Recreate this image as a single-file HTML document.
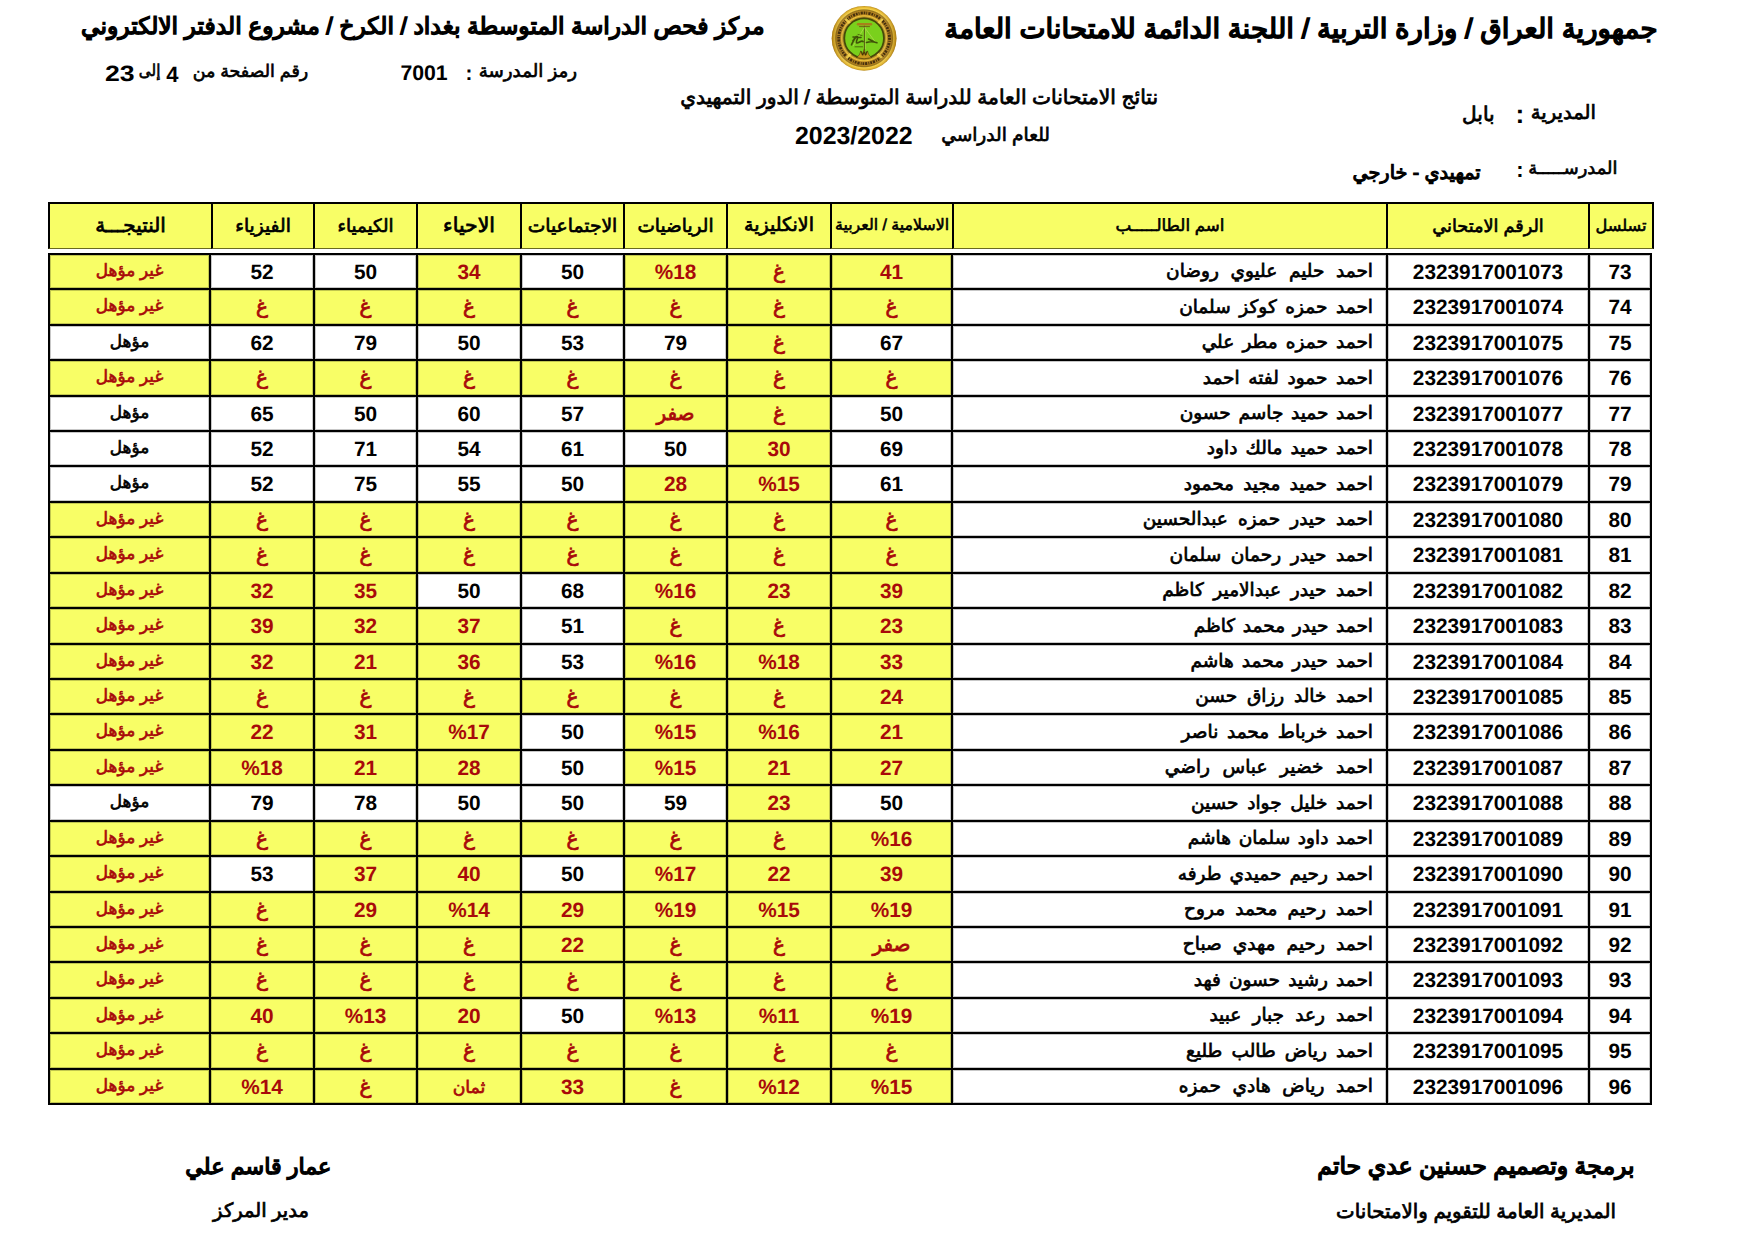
<!DOCTYPE html>
<html lang="ar"><head><meta charset="utf-8"><title>نتائج الامتحانات</title><style>
html,body{margin:0;padding:0;background:#fff;}
body{width:1754px;height:1241px;position:relative;overflow:hidden;font-family:"Liberation Sans",sans-serif;font-weight:bold;color:#000;text-rendering:geometricPrecision;}
.t{position:absolute;white-space:nowrap;direction:rtl;line-height:1;}
.c{position:absolute;box-sizing:border-box;border:2px solid #000;display:flex;align-items:center;justify-content:center;white-space:nowrap;overflow:hidden;line-height:20px;}
.d{box-shadow:inset 0 0 0 1px rgba(0,0,0,.22);}
.y{background:#f8fe66;}
.r{color:#a80a0a;}
.n{font-size:20.8px;direction:ltr;padding-top:2px;}
.a{font-size:16.9px;direction:rtl;padding-bottom:2px;}
.g{font-size:20px;direction:rtl;}
.nm{justify-content:flex-start;direction:rtl;padding-right:13px;padding-bottom:1px;font-size:18.5px;word-spacing:4px;}
.ar{font-weight:normal;-webkit-text-stroke-width:0.038em;}
.h{font-size:18px;direction:rtl;border-bottom:1px solid #6a6a20;}
</style></head><body>
<div class="t ar" id="t0" style="right:96.5px;top:9.0px;font-size:27.61px;height:40px;line-height:40px;direction:rtl;-webkit-text-stroke-width:0.058em;">جمهورية العراق / وزارة التربية / اللجنة الدائمة للامتحانات العامة</div>
<div class="t ar" id="t1" style="right:989.5px;top:5.8px;font-size:23.42px;height:40px;line-height:40px;direction:rtl;-webkit-text-stroke-width:0.062em;">مركز فحص الدراسة المتوسطة بغداد / الكرخ / مشروع الدفتر الالكتروني</div>
<div class="t ar" id="t2" style="right:1177.0px;top:50.5px;font-size:18.23px;height:40px;line-height:40px;direction:rtl;">رمز المدرسة</div>
<div class="t" id="t2c" style="right:1281.5px;top:53.5px;font-size:20.68px;height:40px;line-height:40px;direction:ltr;">:</div>
<div class="t" id="t3" style="right:1306.4px;top:53.7px;font-size:21.23px;height:40px;line-height:40px;direction:ltr;">7001</div>
<div class="t ar" id="t4a" style="right:1445.8px;top:51.0px;font-size:17.48px;height:40px;line-height:40px;direction:rtl;">رقم الصفحة من</div>
<div class="t" id="t4b" style="right:1575.4px;top:54.8px;font-size:22.00px;height:40px;line-height:40px;direction:ltr;">4</div>
<div class="t ar" id="t4c" style="right:1594.0px;top:51.0px;font-size:16.50px;height:40px;line-height:40px;direction:rtl;transform:scaleX(0.920);transform-origin:100% 50%;">إلى</div>
<div class="t" id="t4d" style="right:1619.5px;top:54.3px;font-size:22.20px;height:40px;line-height:40px;direction:ltr;transform:scaleX(1.200);transform-origin:100% 50%;">23</div>
<div class="t ar" id="t5" style="right:596.0px;top:78.2px;font-size:20.17px;height:40px;line-height:40px;direction:rtl;">نتائج الامتحانات العامة للدراسة المتوسطة / الدور التمهيدي</div>
<div class="t ar" id="t6" style="right:704.0px;top:115.4px;font-size:18.58px;height:40px;line-height:40px;direction:rtl;">للعام الدراسي</div>
<div class="t" id="t7" style="right:841.4px;top:116.3px;font-size:24.88px;height:40px;line-height:40px;direction:ltr;">2023/2022</div>
<div class="t ar" id="t8" style="right:158.0px;top:93.2px;font-size:19.60px;height:40px;line-height:40px;direction:rtl;">المديرية</div>
<div class="t" id="t8c" style="right:229.8px;top:93.9px;font-size:26.34px;height:40px;line-height:40px;direction:ltr;">:</div>
<div class="t ar" id="t9" style="right:259.4px;top:94.5px;font-size:20.08px;height:40px;line-height:40px;direction:rtl;">بابل</div>
<div class="t ar" id="t10" style="right:136.6px;top:147.5px;font-size:17.82px;height:40px;line-height:40px;direction:rtl;">المدرســـــة</div>
<div class="t" id="t10c" style="right:230.4px;top:150.2px;font-size:21.94px;height:40px;line-height:40px;direction:ltr;">:</div>
<div class="t ar" id="t11" style="right:273.3px;top:154.0px;font-size:19.23px;height:40px;line-height:40px;direction:rtl;-webkit-text-stroke-width:0.058em;">تمهيدي - خارجي</div>
<div class="t ar" id="t12" style="right:119.4px;top:1146.0px;font-size:23.55px;height:40px;line-height:40px;direction:rtl;-webkit-text-stroke-width:0.062em;">برمجة وتصميم حسنين عدي حاتم</div>
<div class="t ar" id="t13" style="right:138.0px;top:1192.1px;font-size:19.79px;height:40px;line-height:40px;direction:rtl;">المديرية العامة للتقويم والامتحانات</div>
<div class="t ar" id="t14" style="right:1422.6px;top:1146.5px;font-size:22.26px;height:40px;line-height:40px;direction:rtl;-webkit-text-stroke-width:0.062em;">عمار قاسم علي</div>
<div class="t ar" id="t15" style="right:1445.1px;top:1191.4px;font-size:19.53px;height:40px;line-height:40px;direction:rtl;">مدير المركز</div>
<svg style="position:absolute;left:828px;top:2px" width="72" height="72" viewBox="828 2 72 72">
<defs>
<radialGradient id="gd" cx="864.1" cy="38.3" r="32.4" gradientUnits="userSpaceOnUse">
<stop offset="0.60" stop-color="#4e4208"/><stop offset="0.66" stop-color="#b98e16"/><stop offset="0.695" stop-color="#eec02c"/><stop offset="0.73" stop-color="#a8740a"/><stop offset="0.84" stop-color="#ad780b"/><stop offset="0.875" stop-color="#8a6608"/><stop offset="0.91" stop-color="#f4cc38"/><stop offset="0.96" stop-color="#e2b11e"/><stop offset="1" stop-color="#b5860f"/>
</radialGradient>
<linearGradient id="sh" x1="0" y1="0" x2="1" y2="0"><stop offset="0" stop-color="#7a4a00" stop-opacity="0.38"/><stop offset="0.3" stop-color="#fff" stop-opacity="0.08"/><stop offset="0.7" stop-color="#fff" stop-opacity="0.08"/><stop offset="1" stop-color="#7a4a00" stop-opacity="0.38"/></linearGradient>
</defs>
<circle cx="864.1" cy="38.3" r="32.4" fill="url(#gd)"/>
<circle cx="864.1" cy="38.3" r="32.4" fill="url(#sh)"/>
<circle cx="864.1" cy="38.3" r="25.4" fill="none" stroke="#33220a" stroke-width="2.8" stroke-dasharray="1.7 1 0.9 1.2 2.2 0.9" opacity="0.85"/>
<g stroke="#f8d850" stroke-width="2.4" opacity="0.85"><path d="M845.6 18.8l4.6 4.8M882.6 18.8l-4.6 4.8M846.4 58.2l4.4-4.6M881.8 58.2l-4.4-4.6"/></g>
<circle cx="864.1" cy="38.2" r="19.8" fill="#7ad01c" stroke="#454a08" stroke-width="1.7"/>
<g fill="none" stroke="#3f5208" stroke-linecap="round">
<path d="M864.5 26V50" stroke="#55600e" stroke-width="1.2"/>
<path d="M865.4 27V49" stroke="#c9e86a" stroke-width="0.5"/>
<path d="M858 24.2h13" stroke="#a8801a" stroke-width="2.4"/>
<path d="M859.5 26.6h10" stroke="#6e5a12" stroke-width="0.9"/>
<path d="M864 28l-10.5 17.5M865 28l10 13.5" stroke="#a9d84a" stroke-width="0.9"/>
<path d="M851.5 44.8c1.6-3.4 3.4-7.800 5.600-8.200s-2.200 6.200-.2 6.400 4.600-3.200 6.200-1.400M866.500 42.500c3-1.100 6.500-1.100 10.500.2M868.500 39l5.500 2.800M853 37l8 .5" stroke-width="1.6"/>
<path d="M852.5 40.500l3.500-4.500M855 46.800h7.500M858 34.500l4 1" stroke-width="0.8"/>
</g>
<path d="M856.5 57.500c2.500-1.500 3.600-3.600 4.200-6.600l1.500 4.200 1.900-5.600 1.900 5.600 1.500-4.200c.6 3 1.700 5.100 4.200 6.600q-7.600 2.700-15.200 0z" fill="#c79a1c" stroke="#4e3a08" stroke-width="0.6"/>
<path d="M861.300 51.300l1.500 4 1.300-3.600 1.300 3.600 1.500-4" fill="none" stroke="#3e2c04" stroke-width="0.9"/>
</svg>
<div class="c y h ar" style="left:48px;top:202px;width:165px;height:47px;font-size:19.9px">النتيجـــة</div>
<div class="c y h ar" style="left:211px;top:202px;width:104px;height:47px;font-size:18.6px">الفيزياء</div>
<div class="c y h ar" style="left:313px;top:202px;width:105px;height:47px;font-size:18.2px">الكيمياء</div>
<div class="c y h ar" style="left:416px;top:202px;width:106px;height:47px;font-size:20.4px">الاحياء</div>
<div class="c y h ar" style="left:520px;top:202px;width:105px;height:47px;font-size:18.7px">الاجتماعيات</div>
<div class="c y h ar" style="left:623px;top:202px;width:105px;height:47px;font-size:18.5px">الرياضيات</div>
<div class="c y h ar" style="left:726px;top:202px;width:106px;height:47px;font-size:19px">الانكليزية</div>
<div class="c y h ar" style="left:830px;top:202px;width:124px;height:47px;font-size:15.8px">الاسلامية / العربية</div>
<div class="c y h ar" style="left:952px;top:202px;width:436px;height:47px;font-size:16.7px">اسم الطالـــــب</div>
<div class="c y h ar" style="left:1386px;top:202px;width:204px;height:47px;font-size:17.7px">الرقم الامتحاني</div>
<div class="c y h ar" style="left:1588px;top:202px;width:66px;height:47px;font-size:16.2px">تسلسل</div>
<div class="c d y r a ar" style="left:48px;top:253px;width:163px;height:37px">غير مؤهل</div>
<div class="c d n" style="left:209px;top:253px;width:106px;height:37px">52</div>
<div class="c d n" style="left:313px;top:253px;width:105px;height:37px">50</div>
<div class="c d y r n" style="left:416px;top:253px;width:106px;height:37px">34</div>
<div class="c d n" style="left:520px;top:253px;width:105px;height:37px">50</div>
<div class="c d y r n" style="left:623px;top:253px;width:105px;height:37px">%18</div>
<div class="c d y r g ar" style="left:726px;top:253px;width:106px;height:37px">غ</div>
<div class="c d y r n" style="left:830px;top:253px;width:123px;height:37px">41</div>
<div class="c d nm ar" style="left:951px;top:253px;width:437px;height:37px;word-spacing:6.5px">احمد حليم عليوي روضان</div>
<div class="c d n" style="left:1386px;top:253px;width:204px;height:37px">2323917001073</div>
<div class="c d n" style="left:1588px;top:253px;width:64px;height:37px">73</div>
<div class="c d y r a ar" style="left:48px;top:288px;width:163px;height:38px">غير مؤهل</div>
<div class="c d y r g ar" style="left:209px;top:288px;width:106px;height:38px">غ</div>
<div class="c d y r g ar" style="left:313px;top:288px;width:105px;height:38px">غ</div>
<div class="c d y r g ar" style="left:416px;top:288px;width:106px;height:38px">غ</div>
<div class="c d y r g ar" style="left:520px;top:288px;width:105px;height:38px">غ</div>
<div class="c d y r g ar" style="left:623px;top:288px;width:105px;height:38px">غ</div>
<div class="c d y r g ar" style="left:726px;top:288px;width:106px;height:38px">غ</div>
<div class="c d y r g ar" style="left:830px;top:288px;width:123px;height:38px">غ</div>
<div class="c d nm ar" style="left:951px;top:288px;width:437px;height:38px;word-spacing:3.5px">احمد حمزه كوكز سلمان</div>
<div class="c d n" style="left:1386px;top:288px;width:204px;height:38px">2323917001074</div>
<div class="c d n" style="left:1588px;top:288px;width:64px;height:38px">74</div>
<div class="c d a ar" style="left:48px;top:324px;width:163px;height:37px">مؤهل</div>
<div class="c d n" style="left:209px;top:324px;width:106px;height:37px">62</div>
<div class="c d n" style="left:313px;top:324px;width:105px;height:37px">79</div>
<div class="c d n" style="left:416px;top:324px;width:106px;height:37px">50</div>
<div class="c d n" style="left:520px;top:324px;width:105px;height:37px">53</div>
<div class="c d n" style="left:623px;top:324px;width:105px;height:37px">79</div>
<div class="c d y r g ar" style="left:726px;top:324px;width:106px;height:37px">غ</div>
<div class="c d n" style="left:830px;top:324px;width:123px;height:37px">67</div>
<div class="c d nm ar" style="left:951px;top:324px;width:437px;height:37px;word-spacing:3px">احمد حمزه مطر علي</div>
<div class="c d n" style="left:1386px;top:324px;width:204px;height:37px">2323917001075</div>
<div class="c d n" style="left:1588px;top:324px;width:64px;height:37px">75</div>
<div class="c d y r a ar" style="left:48px;top:359px;width:163px;height:38px">غير مؤهل</div>
<div class="c d y r g ar" style="left:209px;top:359px;width:106px;height:38px">غ</div>
<div class="c d y r g ar" style="left:313px;top:359px;width:105px;height:38px">غ</div>
<div class="c d y r g ar" style="left:416px;top:359px;width:106px;height:38px">غ</div>
<div class="c d y r g ar" style="left:520px;top:359px;width:105px;height:38px">غ</div>
<div class="c d y r g ar" style="left:623px;top:359px;width:105px;height:38px">غ</div>
<div class="c d y r g ar" style="left:726px;top:359px;width:106px;height:38px">غ</div>
<div class="c d y r g ar" style="left:830px;top:359px;width:123px;height:38px">غ</div>
<div class="c d nm ar" style="left:951px;top:359px;width:437px;height:38px;word-spacing:3.5px">احمد حمود لفته احمد</div>
<div class="c d n" style="left:1386px;top:359px;width:204px;height:38px">2323917001076</div>
<div class="c d n" style="left:1588px;top:359px;width:64px;height:38px">76</div>
<div class="c d a ar" style="left:48px;top:395px;width:163px;height:37px">مؤهل</div>
<div class="c d n" style="left:209px;top:395px;width:106px;height:37px">65</div>
<div class="c d n" style="left:313px;top:395px;width:105px;height:37px">50</div>
<div class="c d n" style="left:416px;top:395px;width:106px;height:37px">60</div>
<div class="c d n" style="left:520px;top:395px;width:105px;height:37px">57</div>
<div class="c d y r g ar" style="left:623px;top:395px;width:105px;height:37px">صفر</div>
<div class="c d y r g ar" style="left:726px;top:395px;width:106px;height:37px">غ</div>
<div class="c d n" style="left:830px;top:395px;width:123px;height:37px">50</div>
<div class="c d nm ar" style="left:951px;top:395px;width:437px;height:37px;word-spacing:2.5px">احمد حميد جاسم حسون</div>
<div class="c d n" style="left:1386px;top:395px;width:204px;height:37px">2323917001077</div>
<div class="c d n" style="left:1588px;top:395px;width:64px;height:37px">77</div>
<div class="c d a ar" style="left:48px;top:430px;width:163px;height:37px">مؤهل</div>
<div class="c d n" style="left:209px;top:430px;width:106px;height:37px">52</div>
<div class="c d n" style="left:313px;top:430px;width:105px;height:37px">71</div>
<div class="c d n" style="left:416px;top:430px;width:106px;height:37px">54</div>
<div class="c d n" style="left:520px;top:430px;width:105px;height:37px">61</div>
<div class="c d n" style="left:623px;top:430px;width:105px;height:37px">50</div>
<div class="c d y r n" style="left:726px;top:430px;width:106px;height:37px">30</div>
<div class="c d n" style="left:830px;top:430px;width:123px;height:37px">69</div>
<div class="c d nm ar" style="left:951px;top:430px;width:437px;height:37px;word-spacing:3px">احمد حميد مالك داود</div>
<div class="c d n" style="left:1386px;top:430px;width:204px;height:37px">2323917001078</div>
<div class="c d n" style="left:1588px;top:430px;width:64px;height:37px">78</div>
<div class="c d a ar" style="left:48px;top:465px;width:163px;height:38px">مؤهل</div>
<div class="c d n" style="left:209px;top:465px;width:106px;height:38px">52</div>
<div class="c d n" style="left:313px;top:465px;width:105px;height:38px">75</div>
<div class="c d n" style="left:416px;top:465px;width:106px;height:38px">55</div>
<div class="c d n" style="left:520px;top:465px;width:105px;height:38px">50</div>
<div class="c d y r n" style="left:623px;top:465px;width:105px;height:38px">28</div>
<div class="c d y r n" style="left:726px;top:465px;width:106px;height:38px">%15</div>
<div class="c d n" style="left:830px;top:465px;width:123px;height:38px">61</div>
<div class="c d nm ar" style="left:951px;top:465px;width:437px;height:38px">احمد حميد مجيد محمود</div>
<div class="c d n" style="left:1386px;top:465px;width:204px;height:38px">2323917001079</div>
<div class="c d n" style="left:1588px;top:465px;width:64px;height:38px">79</div>
<div class="c d y r a ar" style="left:48px;top:501px;width:163px;height:37px">غير مؤهل</div>
<div class="c d y r g ar" style="left:209px;top:501px;width:106px;height:37px">غ</div>
<div class="c d y r g ar" style="left:313px;top:501px;width:105px;height:37px">غ</div>
<div class="c d y r g ar" style="left:416px;top:501px;width:106px;height:37px">غ</div>
<div class="c d y r g ar" style="left:520px;top:501px;width:105px;height:37px">غ</div>
<div class="c d y r g ar" style="left:623px;top:501px;width:105px;height:37px">غ</div>
<div class="c d y r g ar" style="left:726px;top:501px;width:106px;height:37px">غ</div>
<div class="c d y r g ar" style="left:830px;top:501px;width:123px;height:37px">غ</div>
<div class="c d nm ar" style="left:951px;top:501px;width:437px;height:37px;word-spacing:5px">احمد حيدر حمزه عبدالحسين</div>
<div class="c d n" style="left:1386px;top:501px;width:204px;height:37px">2323917001080</div>
<div class="c d n" style="left:1588px;top:501px;width:64px;height:37px">80</div>
<div class="c d y r a ar" style="left:48px;top:536px;width:163px;height:38px">غير مؤهل</div>
<div class="c d y r g ar" style="left:209px;top:536px;width:106px;height:38px">غ</div>
<div class="c d y r g ar" style="left:313px;top:536px;width:105px;height:38px">غ</div>
<div class="c d y r g ar" style="left:416px;top:536px;width:106px;height:38px">غ</div>
<div class="c d y r g ar" style="left:520px;top:536px;width:105px;height:38px">غ</div>
<div class="c d y r g ar" style="left:623px;top:536px;width:105px;height:38px">غ</div>
<div class="c d y r g ar" style="left:726px;top:536px;width:106px;height:38px">غ</div>
<div class="c d y r g ar" style="left:830px;top:536px;width:123px;height:38px">غ</div>
<div class="c d nm ar" style="left:951px;top:536px;width:437px;height:38px;word-spacing:4.5px">احمد حيدر رحمان سلمان</div>
<div class="c d n" style="left:1386px;top:536px;width:204px;height:38px">2323917001081</div>
<div class="c d n" style="left:1588px;top:536px;width:64px;height:38px">81</div>
<div class="c d y r a ar" style="left:48px;top:572px;width:163px;height:37px">غير مؤهل</div>
<div class="c d y r n" style="left:209px;top:572px;width:106px;height:37px">32</div>
<div class="c d y r n" style="left:313px;top:572px;width:105px;height:37px">35</div>
<div class="c d n" style="left:416px;top:572px;width:106px;height:37px">50</div>
<div class="c d n" style="left:520px;top:572px;width:105px;height:37px">68</div>
<div class="c d y r n" style="left:623px;top:572px;width:105px;height:37px">%16</div>
<div class="c d y r n" style="left:726px;top:572px;width:106px;height:37px">23</div>
<div class="c d y r n" style="left:830px;top:572px;width:123px;height:37px">39</div>
<div class="c d nm ar" style="left:951px;top:572px;width:437px;height:37px;word-spacing:4.5px">احمد حيدر عبدالامير كاظم</div>
<div class="c d n" style="left:1386px;top:572px;width:204px;height:37px">2323917001082</div>
<div class="c d n" style="left:1588px;top:572px;width:64px;height:37px">82</div>
<div class="c d y r a ar" style="left:48px;top:607px;width:163px;height:38px">غير مؤهل</div>
<div class="c d y r n" style="left:209px;top:607px;width:106px;height:38px">39</div>
<div class="c d y r n" style="left:313px;top:607px;width:105px;height:38px">32</div>
<div class="c d y r n" style="left:416px;top:607px;width:106px;height:38px">37</div>
<div class="c d n" style="left:520px;top:607px;width:105px;height:38px">51</div>
<div class="c d y r g ar" style="left:623px;top:607px;width:105px;height:38px">غ</div>
<div class="c d y r g ar" style="left:726px;top:607px;width:106px;height:38px">غ</div>
<div class="c d y r n" style="left:830px;top:607px;width:123px;height:38px">23</div>
<div class="c d nm ar" style="left:951px;top:607px;width:437px;height:38px;word-spacing:2.5px">احمد حيدر محمد كاظم</div>
<div class="c d n" style="left:1386px;top:607px;width:204px;height:38px">2323917001083</div>
<div class="c d n" style="left:1588px;top:607px;width:64px;height:38px">83</div>
<div class="c d y r a ar" style="left:48px;top:643px;width:163px;height:37px">غير مؤهل</div>
<div class="c d y r n" style="left:209px;top:643px;width:106px;height:37px">32</div>
<div class="c d y r n" style="left:313px;top:643px;width:105px;height:37px">21</div>
<div class="c d y r n" style="left:416px;top:643px;width:106px;height:37px">36</div>
<div class="c d n" style="left:520px;top:643px;width:105px;height:37px">53</div>
<div class="c d y r n" style="left:623px;top:643px;width:105px;height:37px">%16</div>
<div class="c d y r n" style="left:726px;top:643px;width:106px;height:37px">%18</div>
<div class="c d y r n" style="left:830px;top:643px;width:123px;height:37px">33</div>
<div class="c d nm ar" style="left:951px;top:643px;width:437px;height:37px;word-spacing:3px">احمد حيدر محمد هاشم</div>
<div class="c d n" style="left:1386px;top:643px;width:204px;height:37px">2323917001084</div>
<div class="c d n" style="left:1588px;top:643px;width:64px;height:37px">84</div>
<div class="c d y r a ar" style="left:48px;top:678px;width:163px;height:37px">غير مؤهل</div>
<div class="c d y r g ar" style="left:209px;top:678px;width:106px;height:37px">غ</div>
<div class="c d y r g ar" style="left:313px;top:678px;width:105px;height:37px">غ</div>
<div class="c d y r g ar" style="left:416px;top:678px;width:106px;height:37px">غ</div>
<div class="c d y r g ar" style="left:520px;top:678px;width:105px;height:37px">غ</div>
<div class="c d y r g ar" style="left:623px;top:678px;width:105px;height:37px">غ</div>
<div class="c d y r g ar" style="left:726px;top:678px;width:106px;height:37px">غ</div>
<div class="c d y r n" style="left:830px;top:678px;width:123px;height:37px">24</div>
<div class="c d nm ar" style="left:951px;top:678px;width:437px;height:37px;word-spacing:4.5px">احمد خالد رزاق حسن</div>
<div class="c d n" style="left:1386px;top:678px;width:204px;height:37px">2323917001085</div>
<div class="c d n" style="left:1588px;top:678px;width:64px;height:37px">85</div>
<div class="c d y r a ar" style="left:48px;top:713px;width:163px;height:38px">غير مؤهل</div>
<div class="c d y r n" style="left:209px;top:713px;width:106px;height:38px">22</div>
<div class="c d y r n" style="left:313px;top:713px;width:105px;height:38px">31</div>
<div class="c d y r n" style="left:416px;top:713px;width:106px;height:38px">%17</div>
<div class="c d n" style="left:520px;top:713px;width:105px;height:38px">50</div>
<div class="c d y r n" style="left:623px;top:713px;width:105px;height:38px">%15</div>
<div class="c d y r n" style="left:726px;top:713px;width:106px;height:38px">%16</div>
<div class="c d y r n" style="left:830px;top:713px;width:123px;height:38px">21</div>
<div class="c d nm ar" style="left:951px;top:713px;width:437px;height:38px;word-spacing:3.5px">احمد خرباط محمد ناصر</div>
<div class="c d n" style="left:1386px;top:713px;width:204px;height:38px">2323917001086</div>
<div class="c d n" style="left:1588px;top:713px;width:64px;height:38px">86</div>
<div class="c d y r a ar" style="left:48px;top:749px;width:163px;height:37px">غير مؤهل</div>
<div class="c d y r n" style="left:209px;top:749px;width:106px;height:37px">%18</div>
<div class="c d y r n" style="left:313px;top:749px;width:105px;height:37px">21</div>
<div class="c d y r n" style="left:416px;top:749px;width:106px;height:37px">28</div>
<div class="c d n" style="left:520px;top:749px;width:105px;height:37px">50</div>
<div class="c d y r n" style="left:623px;top:749px;width:105px;height:37px">%15</div>
<div class="c d y r n" style="left:726px;top:749px;width:106px;height:37px">21</div>
<div class="c d y r n" style="left:830px;top:749px;width:123px;height:37px">27</div>
<div class="c d nm ar" style="left:951px;top:749px;width:437px;height:37px;word-spacing:7.5px">احمد خضير عباس راضي</div>
<div class="c d n" style="left:1386px;top:749px;width:204px;height:37px">2323917001087</div>
<div class="c d n" style="left:1588px;top:749px;width:64px;height:37px">87</div>
<div class="c d a ar" style="left:48px;top:784px;width:163px;height:38px">مؤهل</div>
<div class="c d n" style="left:209px;top:784px;width:106px;height:38px">79</div>
<div class="c d n" style="left:313px;top:784px;width:105px;height:38px">78</div>
<div class="c d n" style="left:416px;top:784px;width:106px;height:38px">50</div>
<div class="c d n" style="left:520px;top:784px;width:105px;height:38px">50</div>
<div class="c d n" style="left:623px;top:784px;width:105px;height:38px">59</div>
<div class="c d y r n" style="left:726px;top:784px;width:106px;height:38px">23</div>
<div class="c d n" style="left:830px;top:784px;width:123px;height:38px">50</div>
<div class="c d nm ar" style="left:951px;top:784px;width:437px;height:38px;word-spacing:3.5px">احمد خليل جواد حسين</div>
<div class="c d n" style="left:1386px;top:784px;width:204px;height:38px">2323917001088</div>
<div class="c d n" style="left:1588px;top:784px;width:64px;height:38px">88</div>
<div class="c d y r a ar" style="left:48px;top:820px;width:163px;height:37px">غير مؤهل</div>
<div class="c d y r g ar" style="left:209px;top:820px;width:106px;height:37px">غ</div>
<div class="c d y r g ar" style="left:313px;top:820px;width:105px;height:37px">غ</div>
<div class="c d y r g ar" style="left:416px;top:820px;width:106px;height:37px">غ</div>
<div class="c d y r g ar" style="left:520px;top:820px;width:105px;height:37px">غ</div>
<div class="c d y r g ar" style="left:623px;top:820px;width:105px;height:37px">غ</div>
<div class="c d y r g ar" style="left:726px;top:820px;width:106px;height:37px">غ</div>
<div class="c d y r n" style="left:830px;top:820px;width:123px;height:37px">%16</div>
<div class="c d nm ar" style="left:951px;top:820px;width:437px;height:37px;word-spacing:2.5px">احمد داود سلمان هاشم</div>
<div class="c d n" style="left:1386px;top:820px;width:204px;height:37px">2323917001089</div>
<div class="c d n" style="left:1588px;top:820px;width:64px;height:37px">89</div>
<div class="c d y r a ar" style="left:48px;top:855px;width:163px;height:38px">غير مؤهل</div>
<div class="c d n" style="left:209px;top:855px;width:106px;height:38px">53</div>
<div class="c d y r n" style="left:313px;top:855px;width:105px;height:38px">37</div>
<div class="c d y r n" style="left:416px;top:855px;width:106px;height:38px">40</div>
<div class="c d n" style="left:520px;top:855px;width:105px;height:38px">50</div>
<div class="c d y r n" style="left:623px;top:855px;width:105px;height:38px">%17</div>
<div class="c d y r n" style="left:726px;top:855px;width:106px;height:38px">22</div>
<div class="c d y r n" style="left:830px;top:855px;width:123px;height:38px">39</div>
<div class="c d nm ar" style="left:951px;top:855px;width:437px;height:38px;word-spacing:3px">احمد رحيم حميدي طرفه</div>
<div class="c d n" style="left:1386px;top:855px;width:204px;height:38px">2323917001090</div>
<div class="c d n" style="left:1588px;top:855px;width:64px;height:38px">90</div>
<div class="c d y r a ar" style="left:48px;top:891px;width:163px;height:37px">غير مؤهل</div>
<div class="c d y r g ar" style="left:209px;top:891px;width:106px;height:37px">غ</div>
<div class="c d y r n" style="left:313px;top:891px;width:105px;height:37px">29</div>
<div class="c d y r n" style="left:416px;top:891px;width:106px;height:37px">%14</div>
<div class="c d y r n" style="left:520px;top:891px;width:105px;height:37px">29</div>
<div class="c d y r n" style="left:623px;top:891px;width:105px;height:37px">%19</div>
<div class="c d y r n" style="left:726px;top:891px;width:106px;height:37px">%15</div>
<div class="c d y r n" style="left:830px;top:891px;width:123px;height:37px">%19</div>
<div class="c d nm ar" style="left:951px;top:891px;width:437px;height:37px;word-spacing:5px">احمد رحيم محمد مروح</div>
<div class="c d n" style="left:1386px;top:891px;width:204px;height:37px">2323917001091</div>
<div class="c d n" style="left:1588px;top:891px;width:64px;height:37px">91</div>
<div class="c d y r a ar" style="left:48px;top:926px;width:163px;height:37px">غير مؤهل</div>
<div class="c d y r g ar" style="left:209px;top:926px;width:106px;height:37px">غ</div>
<div class="c d y r g ar" style="left:313px;top:926px;width:105px;height:37px">غ</div>
<div class="c d y r g ar" style="left:416px;top:926px;width:106px;height:37px">غ</div>
<div class="c d y r n" style="left:520px;top:926px;width:105px;height:37px">22</div>
<div class="c d y r g ar" style="left:623px;top:926px;width:105px;height:37px">غ</div>
<div class="c d y r g ar" style="left:726px;top:926px;width:106px;height:37px">غ</div>
<div class="c d y r g ar" style="left:830px;top:926px;width:123px;height:37px">صفر</div>
<div class="c d nm ar" style="left:951px;top:926px;width:437px;height:37px;word-spacing:6px">احمد رحيم مهدي صباح</div>
<div class="c d n" style="left:1386px;top:926px;width:204px;height:37px">2323917001092</div>
<div class="c d n" style="left:1588px;top:926px;width:64px;height:37px">92</div>
<div class="c d y r a ar" style="left:48px;top:961px;width:163px;height:38px">غير مؤهل</div>
<div class="c d y r g ar" style="left:209px;top:961px;width:106px;height:38px">غ</div>
<div class="c d y r g ar" style="left:313px;top:961px;width:105px;height:38px">غ</div>
<div class="c d y r g ar" style="left:416px;top:961px;width:106px;height:38px">غ</div>
<div class="c d y r g ar" style="left:520px;top:961px;width:105px;height:38px">غ</div>
<div class="c d y r g ar" style="left:623px;top:961px;width:105px;height:38px">غ</div>
<div class="c d y r g ar" style="left:726px;top:961px;width:106px;height:38px">غ</div>
<div class="c d y r g ar" style="left:830px;top:961px;width:123px;height:38px">غ</div>
<div class="c d nm ar" style="left:951px;top:961px;width:437px;height:38px;word-spacing:3px">احمد رشيد حسون فهد</div>
<div class="c d n" style="left:1386px;top:961px;width:204px;height:38px">2323917001093</div>
<div class="c d n" style="left:1588px;top:961px;width:64px;height:38px">93</div>
<div class="c d y r a ar" style="left:48px;top:997px;width:163px;height:37px">غير مؤهل</div>
<div class="c d y r n" style="left:209px;top:997px;width:106px;height:37px">40</div>
<div class="c d y r n" style="left:313px;top:997px;width:105px;height:37px">%13</div>
<div class="c d y r n" style="left:416px;top:997px;width:106px;height:37px">20</div>
<div class="c d n" style="left:520px;top:997px;width:105px;height:37px">50</div>
<div class="c d y r n" style="left:623px;top:997px;width:105px;height:37px">%13</div>
<div class="c d y r n" style="left:726px;top:997px;width:106px;height:37px">%11</div>
<div class="c d y r n" style="left:830px;top:997px;width:123px;height:37px">%19</div>
<div class="c d nm ar" style="left:951px;top:997px;width:437px;height:37px;word-spacing:6px">احمد رعد جبار عبيد</div>
<div class="c d n" style="left:1386px;top:997px;width:204px;height:37px">2323917001094</div>
<div class="c d n" style="left:1588px;top:997px;width:64px;height:37px">94</div>
<div class="c d y r a ar" style="left:48px;top:1032px;width:163px;height:38px">غير مؤهل</div>
<div class="c d y r g ar" style="left:209px;top:1032px;width:106px;height:38px">غ</div>
<div class="c d y r g ar" style="left:313px;top:1032px;width:105px;height:38px">غ</div>
<div class="c d y r g ar" style="left:416px;top:1032px;width:106px;height:38px">غ</div>
<div class="c d y r g ar" style="left:520px;top:1032px;width:105px;height:38px">غ</div>
<div class="c d y r g ar" style="left:623px;top:1032px;width:105px;height:38px">غ</div>
<div class="c d y r g ar" style="left:726px;top:1032px;width:106px;height:38px">غ</div>
<div class="c d y r g ar" style="left:830px;top:1032px;width:123px;height:38px">غ</div>
<div class="c d nm ar" style="left:951px;top:1032px;width:437px;height:38px">احمد رياض طالب طليع</div>
<div class="c d n" style="left:1386px;top:1032px;width:204px;height:38px">2323917001095</div>
<div class="c d n" style="left:1588px;top:1032px;width:64px;height:38px">95</div>
<div class="c d y r a ar" style="left:48px;top:1068px;width:163px;height:37px">غير مؤهل</div>
<div class="c d y r n" style="left:209px;top:1068px;width:106px;height:37px">%14</div>
<div class="c d y r g ar" style="left:313px;top:1068px;width:105px;height:37px">غ</div>
<div class="c d y r g ar" style="left:416px;top:1068px;width:106px;height:37px;font-size:17.3px">ثمان</div>
<div class="c d y r n" style="left:520px;top:1068px;width:105px;height:37px">33</div>
<div class="c d y r g ar" style="left:623px;top:1068px;width:105px;height:37px">غ</div>
<div class="c d y r n" style="left:726px;top:1068px;width:106px;height:37px">%12</div>
<div class="c d y r n" style="left:830px;top:1068px;width:123px;height:37px">%15</div>
<div class="c d nm ar" style="left:951px;top:1068px;width:437px;height:37px;word-spacing:6.5px">احمد رياض هادي حمزه</div>
<div class="c d n" style="left:1386px;top:1068px;width:204px;height:37px">2323917001096</div>
<div class="c d n" style="left:1588px;top:1068px;width:64px;height:37px">96</div>
</body></html>
